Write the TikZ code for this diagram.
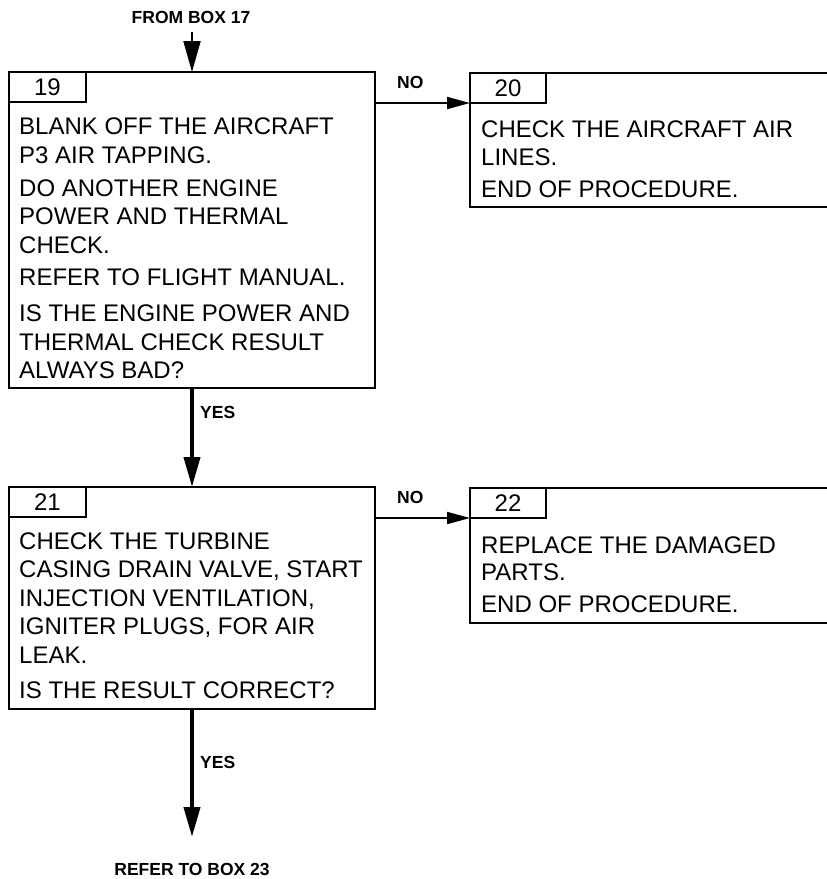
\documentclass[tikz,border=0pt]{standalone}
\usepackage{fontspec}
\setmainfont{Liberation Sans}
\usetikzlibrary{arrows.meta}
\begin{document}
\begin{tikzpicture}[x=1pt,y=-1pt,
  box/.style={draw, line width=2pt, anchor=north west, inner sep=0pt, outer sep=0pt},
  tabbox/.style={draw, line width=2pt, anchor=north west, minimum height=30pt,
    inner sep=0pt, outer sep=0pt, font=\fontsize{24}{28}\selectfont},
  txt/.style={anchor=base west, inner sep=0pt, font=\fontsize{24}{28}\selectfont},
  lbl/.style={anchor=base west, inner sep=0pt, font=\bfseries\fontsize{17.5}{20}\selectfont},
  thinarrow/.style={line width=2pt, -{Triangle[length=31pt,width=17pt]}},
  thickarrow/.style={line width=4pt, -{Triangle[length=30pt,width=16pt]}},
  noarrow/.style={line width=1.8pt, -{Triangle[length=23pt,width=12pt]}}]
\clip (0,0) rectangle (827,879);
% boxes
\node[box, minimum width=366pt, minimum height=316pt] (b19) at (9,72) {};
\node[tabbox, minimum width=77pt] (t19) at (b19.north west) {19};
\node[box, minimum width=400pt, minimum height=134pt] (b20) at (470,73) {};
\node[tabbox, minimum width=76pt] (t20) at (b20.north west) {20};
\node[box, minimum width=366pt, minimum height=222pt] (b21) at (9,487) {};
\node[tabbox, minimum width=77pt] (t21) at (b21.north west) {21};
\node[box, minimum width=400pt, minimum height=135pt] (b22) at (470,488) {};
\node[tabbox, minimum width=76pt] (t22) at (b22.north west) {22};
% box 19 text
\node[txt] (l19a) at (19,134) {BLANK OFF THE AIRCRAFT};
\node[txt] (l19b) at (19,163) {P3 AIR TAPPING.};
\node[txt] (l19c) at (19,196) {DO ANOTHER ENGINE};
\node[txt] (l19d) at (19,224) {POWER AND THERMAL};
\node[txt] (l19e) at (19,253) {CHECK.};
\node[txt] (l19f) at (19,285) {REFER TO FLIGHT MANUAL.};
\node[txt] (l19g) at (19,321) {IS THE ENGINE POWER AND};
\node[txt] (l19h) at (19,350) {THERMAL CHECK RESULT};
\node[txt] (l19i) at (19,378) {ALWAYS BAD?};
% box 20 text
\node[txt] (l20a) at (481,137) {CHECK THE AIRCRAFT AIR};
\node[txt] (l20b) at (481,165) {LINES.};
\node[txt] (l20c) at (481,197) {END OF PROCEDURE.};
% box 21 text
\node[txt] (l21a) at (19,549) {CHECK THE TURBINE};
\node[txt] (l21b) at (19,577) {CASING DRAIN VALVE, START};
\node[txt] (l21c) at (19,606) {INJECTION VENTILATION,};
\node[txt] (l21d) at (19,634) {IGNITER PLUGS, FOR AIR};
\node[txt] (l21e) at (19,663) {LEAK.};
\node[txt] (l21f) at (19,698) {IS THE RESULT CORRECT?};
% box 22 text
\node[txt] (l22a) at (481,553) {REPLACE THE DAMAGED};
\node[txt] (l22b) at (481,580) {PARTS.};
\node[txt] (l22c) at (481,612) {END OF PROCEDURE.};
% labels
\node[lbl, anchor=base] (from17) at (191,23) {FROM BOX 17};
\node[lbl, anchor=base] (to23) at (192,875) {REFER TO BOX 23};
\node[lbl] (yes1) at (200,418) {YES};
\node[lbl] (yes2) at (200,768) {YES};
\node[lbl] (no1) at (397,88) {NO};
\node[lbl] (no2) at (397,503) {NO};
% connectors
\coordinate (top17) at (192,32);
\coordinate (end23) at (192,837);
\draw[thinarrow] (top17) -- (b19.north);
\draw[thickarrow] (b19.south) -- (b21.north);
\draw[thickarrow] (b21.south) -- (end23);
\draw[noarrow] (b19.east |- t20.south west) -- (t20.south west);
\draw[noarrow] (b21.east |- t22.south west) -- (t22.south west);
\end{tikzpicture}
\end{document}
